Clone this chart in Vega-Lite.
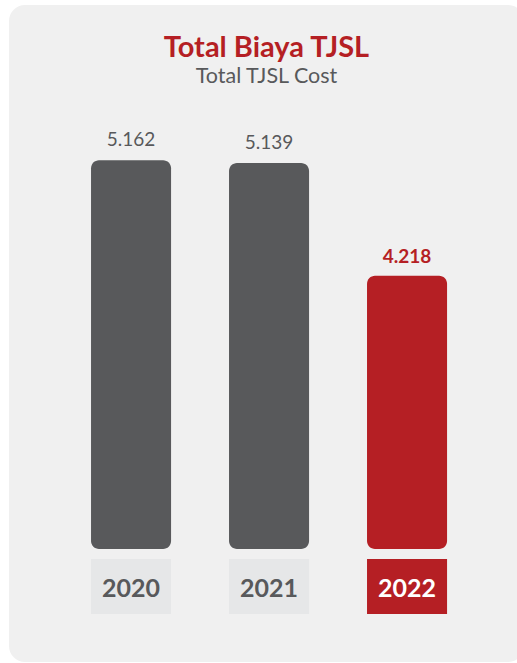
{
  "$schema": "https://vega.github.io/schema/vega-lite/v6.json",
  "width": 515,
  "height": 657,
  "autosize": "none",
  "padding": {"left": 9, "top": 5, "right": 0, "bottom": 0},
  "background": "white",
  "view": {"fill": "#f0f0f0", "stroke": null, "cornerRadius": 16},
  "title": {
    "text": "Total Biaya TJSL",
    "subtitle": "Total TJSL Cost",
    "frame": "group",
    "anchor": "middle",
    "orient": "top",
    "offset": -82,
    "font": "Lato",
    "fontSize": 29,
    "fontWeight": "bold",
    "color": "#b51f24",
    "subtitleFont": "Lato",
    "subtitleFontSize": 21.5,
    "subtitleColor": "#58595b",
    "subtitlePadding": 3
  },
  "data": {
    "values": [
      {"year": "2020", "value": 5.162, "label": "5.162", "highlight": false},
      {"year": "2021", "value": 5.139, "label": "5.139", "highlight": false},
      {"year": "2022", "value": 4.218, "label": "4.218", "highlight": true}
    ]
  },
  "encoding": {
    "x": {
      "field": "year",
      "type": "nominal",
      "axis": null,
      "scale": {"paddingInner": 0.42, "paddingOuter": 0.576, "align": 0.516}
    }
  },
  "layer": [
    {
      "mark": {"type": "bar", "cornerRadius": 8},
      "encoding": {
        "y": {
          "field": "value",
          "type": "quantitative",
          "axis": null,
          "scale": {"domain": [1.065, 6.429], "zero": false, "nice": false}
        },
        "y2": {"datum": 1.988},
        "color": {
          "condition": {"test": "datum.highlight", "value": "#b51f24"},
          "value": "#58595b"
        }
      }
    },
    {
      "mark": {"type": "rect"},
      "encoding": {
        "y": {"datum": 1.906},
        "y2": {"datum": 1.457},
        "color": {
          "condition": {"test": "datum.highlight", "value": "#b51f24"},
          "value": "#e6e7e8"
        }
      }
    },
    {
      "mark": {"type": "text", "font": "Lato", "fontSize": 25, "fontWeight": "bold", "baseline": "middle", "dy": 2},
      "encoding": {
        "y": {"datum": 1.68},
        "text": {"field": "year"},
        "color": {
          "condition": {"test": "datum.highlight", "value": "#ffffff"},
          "value": "#58595b"
        }
      }
    },
    {
      "transform": [{"filter": "!datum.highlight"}],
      "mark": {"type": "text", "font": "Lato", "fontSize": 19, "baseline": "alphabetic", "dy": -14, "color": "#58595b"},
      "encoding": {
        "y": {"field": "value", "type": "quantitative"},
        "text": {"field": "label"}
      }
    },
    {
      "transform": [{"filter": "datum.highlight"}],
      "mark": {"type": "text", "font": "Lato", "fontSize": 19, "fontWeight": "bold", "baseline": "alphabetic", "dy": -13, "color": "#b51f24"},
      "encoding": {
        "y": {"field": "value", "type": "quantitative"},
        "text": {"field": "label"}
      }
    }
  ]
}
